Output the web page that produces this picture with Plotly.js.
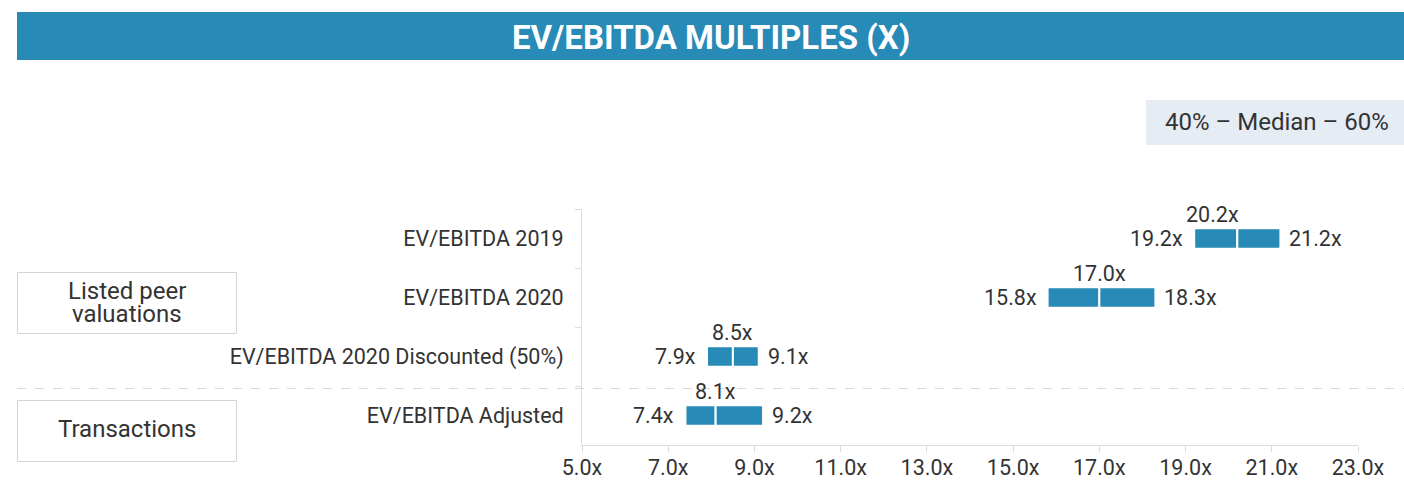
<!DOCTYPE html>
<html>
<head>
<meta charset="utf-8">
<script src="https://cdn.plot.ly/plotly-3.0.1.min.js"></script>
<style>
html,body{margin:0;padding:0;background:#fff;}
#chart{width:1404px;height:481px;}
</style>
</head>
<body>
<div id="chart"></div>
<script>
// ---- data ----
const categories = ["EV/EBITDA 2019", "EV/EBITDA 2020", "EV/EBITDA 2020 Discounted (50%)", "EV/EBITDA Adjusted"];
const low40 = [19.2, 15.8, 7.9, 7.4];
const median = [20.2, 17.0, 8.5, 8.1];
const high60 = [21.2, 18.3, 9.1, 9.2];
const groupLabels = ["Listed peer<br>valuations", "Transactions"];
const legendText = "40% \u2013 Median \u2013 60%";
const chartTitle = "EV/EBITDA MULTIPLES (X)";

// ---- style ----
const W = 1404, H = 481;
const M = {l: 582, r: 46, t: 209, b: 36};
const PW = W - M.l - M.r, PH = H - M.t - M.b;
const BLUE = "#278ab7";
const TXT = "#333333";
const FONT = "Roboto, 'Noto Sans', sans-serif";
const FS = 21.5;
const medianLabelShift = [-25, 0, 0, 0];
const fx = px => (px - M.l) / PW;
const fy = py => (H - M.b - py) / PH;
const fmt = v => v.toFixed(1) + "x";

const traces = [
  {type: "bar", orientation: "h", y: categories,
   x: median.map((m, i) => m - low40[i]), base: low40,
   marker: {color: BLUE, line: {color: "#ffffff", width: 2}},
   width: 0.35, hoverinfo: "skip", showlegend: false},
  {type: "bar", orientation: "h", y: categories,
   x: high60.map((h, i) => h - median[i]), base: median,
   marker: {color: BLUE, line: {color: "#ffffff", width: 2}},
   width: 0.35, hoverinfo: "skip", showlegend: false}
];

const annotations = [];
categories.forEach((c, i) => {
  annotations.push({x: low40[i], y: c, xref: "x", yref: "y", text: fmt(low40[i]),
    showarrow: false, xanchor: "right", xshift: -9, font: {size: FS, color: TXT, family: FONT}});
  annotations.push({x: high60[i], y: c, xref: "x", yref: "y", text: fmt(high60[i]),
    showarrow: false, xanchor: "left", xshift: 7, font: {size: FS, color: TXT, family: FONT}});
  annotations.push({x: median[i], y: c, xref: "x", yref: "y", text: fmt(median[i]),
    showarrow: false, xanchor: "center", yshift: 24, xshift: medianLabelShift[i], font: {size: FS, color: TXT, family: FONT}});
});
// title
annotations.push({x: fx((17 + 1404) / 2), y: fy(37), xref: "paper", yref: "paper", text: "<b>" + chartTitle + "</b>",
  showarrow: false, xanchor: "center", yanchor: "middle", font: {size: 33, color: "#ffffff", family: FONT}});
// legend box text
annotations.push({x: fx(1277), y: fy(122), xref: "paper", yref: "paper", text: legendText,
  showarrow: false, xanchor: "center", yanchor: "middle", font: {size: 24, color: TXT, family: FONT}});
// group labels (each line placed separately for tight line spacing)
const g0 = groupLabels[0].split("<br>");
g0.forEach((line, k) => {
  annotations.push({x: fx(127), y: fy(291 + k * 23), xref: "paper", yref: "paper", text: line,
    showarrow: false, xanchor: "center", yanchor: "middle", font: {size: 24, color: TXT, family: FONT}});
});
annotations.push({x: fx(127), y: fy(429), xref: "paper", yref: "paper", text: groupLabels[1],
  showarrow: false, xanchor: "center", yanchor: "middle", font: {size: 24, color: TXT, family: FONT}});

const shapes = [
  {type: "rect", xref: "paper", yref: "paper", x0: fx(17), x1: fx(1404), y0: fy(60), y1: fy(12),
   fillcolor: BLUE, line: {width: 0}, layer: "below"},
  {type: "rect", xref: "paper", yref: "paper", x0: fx(1146), x1: fx(1404), y0: fy(145), y1: fy(100),
   fillcolor: "#e5ecf3", line: {width: 0}, layer: "below"},
  {type: "rect", xref: "paper", yref: "paper", x0: fx(17.5), x1: fx(236.5), y0: fy(333.5), y1: fy(272.5),
   fillcolor: "rgba(0,0,0,0)", line: {width: 1, color: "#d4d4d4"}},
  {type: "rect", xref: "paper", yref: "paper", x0: fx(17.5), x1: fx(236.5), y0: fy(461.5), y1: fy(400.5),
   fillcolor: "rgba(0,0,0,0)", line: {width: 1, color: "#d4d4d4"}},
  {type: "line", xref: "paper", yref: "paper", x0: fx(17), x1: fx(1404), y0: fy(388.5), y1: fy(388.5),
   line: {width: 1, color: "#d3dbe3", dash: "dash"}}
];

const layout = {
  width: W, height: H,
  margin: M,
  paper_bgcolor: "#ffffff", plot_bgcolor: "#ffffff",
  font: {family: FONT, size: FS, color: TXT},
  barmode: "overlay",
  showlegend: false,
  xaxis: {range: [5, 23], dtick: 2, tick0: 5, tickformat: ".1f", ticksuffix: "x",
    showgrid: false, zeroline: false, showline: true, linecolor: "#d5dde5", linewidth: 1,
    ticks: "outside", ticklen: 6, tickcolor: "#d5dde5", automargin: false,
    ticklabelstandoff: -3,
    tickfont: {size: FS, color: TXT, family: FONT}, fixedrange: true},
  yaxis: {type: "category", categoryorder: "array", categoryarray: categories, range: [3.5, -0.5],
    autorange: false,
    showgrid: false, zeroline: false, showline: true, linecolor: "#d5dde5", linewidth: 1,
    ticks: "outside", ticklen: 6, tickcolor: "#d5dde5", tickson: "boundaries",
    ticklabelstandoff: 13, automargin: false,
    tickfont: {size: FS, color: TXT, family: FONT}, fixedrange: true},
  shapes: shapes,
  annotations: annotations
};

Plotly.newPlot("chart", traces, layout, {displayModeBar: false, staticPlot: true});
</script>
</body>
</html>
